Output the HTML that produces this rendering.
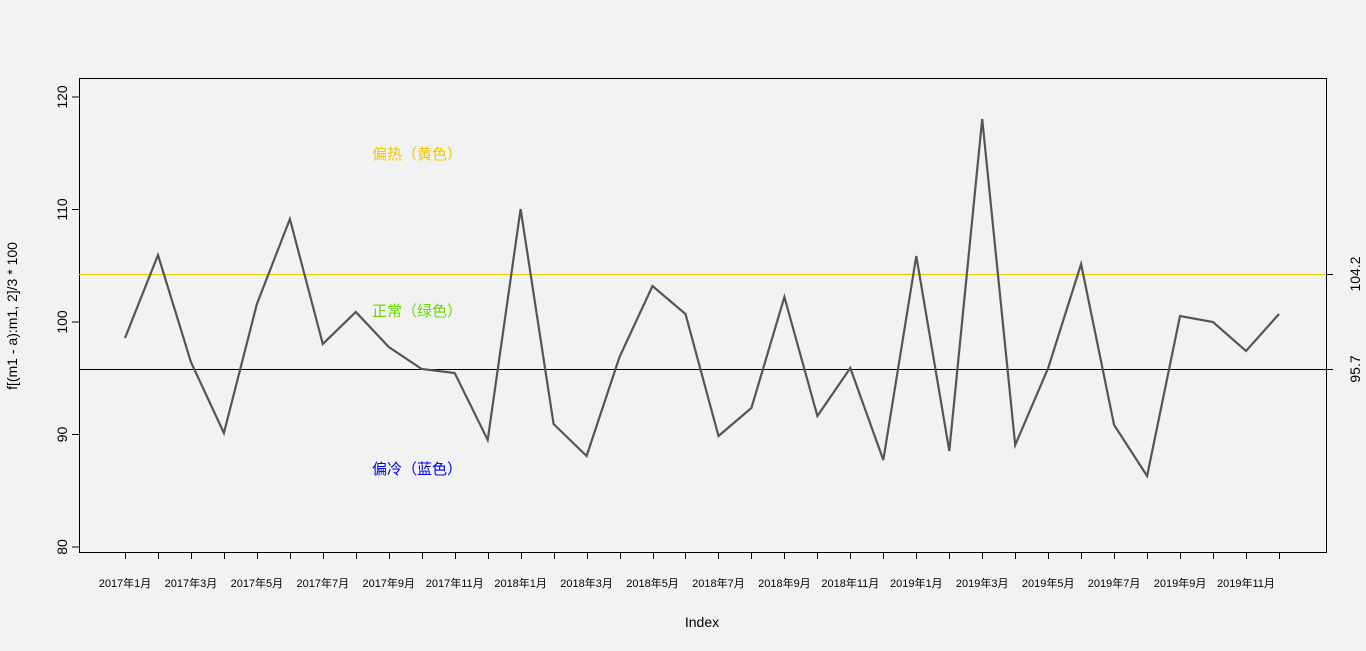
<!DOCTYPE html>
<html><head><meta charset="utf-8"><style>
body{margin:0;background:#f2f2f2;overflow:hidden;}
svg{display:block;}
svg text{font-family:"Liberation Sans","Noto Sans CJK SC",sans-serif;}
</style></head><body>
<svg width="1366" height="651" xmlns="http://www.w3.org/2000/svg">
<rect width="1366" height="651" fill="#f2f2f2"/>
<rect x="79.5" y="78.5" width="1247" height="474" fill="none" stroke="#000" stroke-width="1"/>
<g stroke="#000" stroke-width="1">
<line x1="72" y1="97" x2="79" y2="97"/><line x1="72" y1="209.5" x2="79" y2="209.5"/><line x1="72" y1="322" x2="79" y2="322"/><line x1="72" y1="434.5" x2="79" y2="434.5"/><line x1="72" y1="547" x2="79" y2="547"/>
<line x1="1326" y1="274.5" x2="1333" y2="274.5"/><line x1="1326" y1="369.5" x2="1333" y2="369.5"/>
</g>
<g font-size="14" fill="#000" text-anchor="middle">
<text transform="translate(67,97) rotate(-90)">120</text>
<text transform="translate(67,209.5) rotate(-90)">110</text>
<text transform="translate(67,322) rotate(-90)">100</text>
<text transform="translate(67,434.5) rotate(-90)">90</text>
<text transform="translate(67,547) rotate(-90)">80</text>
<text transform="translate(1360,274) rotate(-90)">104.2</text>
<text transform="translate(1360,369) rotate(-90)">95.7</text>
<text transform="translate(17,316) rotate(-90)">f[(m1 - a):m1, 2]/3 * 100</text>
<text x="702" y="627">Index</text>
</g>
<g id="ticks" stroke="#000" stroke-width="1"></g>
<g id="labels" font-size="11" fill="#000" text-anchor="middle"></g>
<line x1="79" y1="274.5" x2="1326" y2="274.5" stroke="#e8d000" stroke-width="1"/>
<line x1="79" y1="369.5" x2="1326" y2="369.5" stroke="#000" stroke-width="1"/>
<polyline id="pl" fill="none" stroke="#555" stroke-width="2.2" points=""/>
<g font-size="15" text-anchor="middle">
<text x="417" y="159" fill="#f0c800">偏热（黄色）</text>
<text x="417" y="316" fill="#66dd00">正常（绿色）</text>
<text x="417" y="474" fill="#0000ee">偏冷（蓝色）</text>
</g>
</svg>
<script>
var ys=[338,255,362,433,304,219,344,312,347,369,373,440,209,424,456,357,286,314,436,408,297,416,368,460,256,451,119,445,368,264,425,476,316,322,351,314];
var pts=[],t="",l="";
var names=["2017年1月","2017年3月","2017年5月","2017年7月","2017年9月","2017年11月","2018年1月","2018年3月","2018年5月","2018年7月","2018年9月","2018年11月","2019年1月","2019年3月","2019年5月","2019年7月","2019年9月","2019年11月"];
for(var i=0;i<36;i++){var x=125+i*32.97;pts.push(x.toFixed(1)+","+ys[i]);
var xr=Math.round(x)+0.5;
t+='<line x1="'+xr+'" y1="552" x2="'+xr+'" y2="559"/>';
if(i%2==0)l+='<text x="'+x+'" y="587">'+names[i/2]+'</text>';}
document.getElementById("pl").setAttribute("points",pts.join(" "));
document.getElementById("ticks").innerHTML=t;
document.getElementById("labels").innerHTML=l;
</script>
</body></html>
